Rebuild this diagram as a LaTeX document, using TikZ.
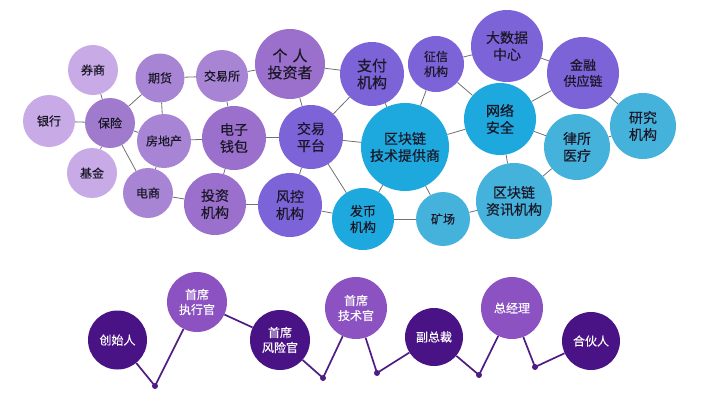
\documentclass[tikz,border=0pt]{standalone}
\usepackage{fontspec}
\newfontfamily\cjk[FakeBold=0.35]{Noto Sans CJK SC}
\definecolor{cA}{HTML}{C8AAE6}
\definecolor{cB}{HTML}{A884D4}
\definecolor{cBd}{HTML}{A07ACC}
\definecolor{cC}{HTML}{9A70CC}
\definecolor{cD}{HTML}{7D63D8}
\definecolor{cE}{HTML}{1EA9DE}
\definecolor{cF}{HTML}{45B2DC}
\definecolor{txt}{HTML}{1A1726}
\definecolor{edgegray}{HTML}{707070}
\definecolor{pdark}{HTML}{4A1385}
\definecolor{plight}{HTML}{8C52C2}
\definecolor{pline}{HTML}{4E1C85}
\tikzset{
  bub/.style={circle, inner sep=0pt, align=center, text=txt},
  f12/.style={font=\cjk\fontsize{12}{15}\selectfont},
  f13/.style={font=\cjk\fontsize{13}{16}\selectfont},
  f14/.style={font=\cjk\fontsize{14}{17}\selectfont},
  f15/.style={font=\cjk\fontsize{15}{17}\selectfont},
  link/.style={draw=edgegray, line width=0.8pt},
  pbub/.style={circle, inner sep=0pt, align=center, text=white, font=\cjk\fontsize{12}{15}\selectfont},
  zig/.style={draw=pline, line width=1.7pt},
  pdot/.style={circle, fill=pline, inner sep=0pt, minimum size=6pt}
}
\begin{document}
\begin{tikzpicture}[x=1pt,y=-1pt]
\useasboundingbox (0,0) rectangle (710,402);
% top network
\node[bub,f12,fill=cA,minimum size=50pt] (quanshang) at (93,70) {券商};
\node[bub,f12,fill=cA,minimum size=52pt] (yinhang) at (49,121) {银行};
\node[bub,f12,fill=cBd,minimum size=50pt] (baoxian) at (110,123) {保险};
\node[bub,f12,fill=cA,minimum size=50pt] (jijin) at (92,173) {基金};
\node[bub,f12,fill=cB,minimum size=49pt] (qihuo) at (160,78) {期货};
\node[bub,f12,fill=cB,minimum size=54pt] (fangdichan) at (164,141) {房地产};
\node[bub,f12,fill=cB,minimum size=50pt] (dianshang) at (148,193) {电商};
\node[bub,f12,fill=cB,minimum size=52pt] (jiaoyisuo) at (222,76) {交易所};
\node[bub,f15,fill=cC,minimum size=70pt] (geren) at (290,64) {个\,\,人\\投资者};
\node[bub,f14,fill=cC,minimum size=64pt] (qianbao) at (234,138) {电子\\钱包};
\node[bub,f14,fill=cC,minimum size=62pt] (touzi) at (215,204) {投资\\机构};
\node[bub,f14,fill=cD,minimum size=64pt] (pingtai) at (311,137) {交易\\平台};
\node[bub,f14,fill=cD,minimum size=64pt] (fengkong) at (290,205) {风控\\机构};
\node[bub,f15,fill=cD,minimum size=64pt] (zhifu) at (372,74) {支付\\机构};
\node[bub,f12,fill=cD,minimum size=56pt] (zhengxin) at (436,64) {征信\\机构};
\node[bub,f14,fill=cD,minimum size=72pt] (dashuju) at (507,46) {大数据\\中心};
\node[bub,f13,fill=cD,minimum size=72pt] (jinrong) at (583,73) {金融\\供应链};
\node[bub,f14,fill=cE,minimum size=72pt] (wangluo) at (500,119) {网络\\安全};
\node[bub,f14,fill=cE,minimum size=88pt] (tigong) at (405,147) {区块链\\技术提供商};
\node[bub,f14,fill=cF,minimum size=66pt] (yanjiu) at (643,126) {研究\\机构};
\node[bub,f14,fill=cF,minimum size=66pt] (lvsuo) at (577,147) {律所\\医疗};
\node[bub,f14,fill=cF,minimum size=76pt] (zixun) at (514,201) {区块链\\资讯机构};
\node[bub,f12,fill=cF,minimum size=54pt] (kuangchang) at (443,219) {矿场};
\node[bub,f13,fill=cE,minimum size=62pt] (fabi) at (363,219) {发币\\机构};
% edges
\draw[link] (quanshang) -- (baoxian);
\draw[link] (yinhang) -- (baoxian);
\draw[link] (jijin) -- (baoxian);
\draw[link] (baoxian) -- (qihuo);
\draw[link] (baoxian) -- (fangdichan);
\draw[link] (baoxian) -- (dianshang);
\draw[link] (qihuo) -- (fangdichan);
\draw[link] (qihuo) -- (jiaoyisuo);
\draw[link] (fangdichan) -- (qianbao);
\draw[link] (fangdichan) -- (dianshang);
\draw[link] (dianshang) -- (touzi);
\draw[link] (jiaoyisuo) -- (qianbao);
\draw[link] (jiaoyisuo) -- (geren);
\draw[link] (qianbao) -- (touzi);
\draw[link] (qianbao) -- (pingtai);
\draw[link] (geren) -- (pingtai);
\draw[link] (geren) -- (zhifu);
\draw[link] (touzi) -- (fengkong);
\draw[link] (fengkong) -- (pingtai);
\draw[link] (fengkong) -- (fabi);
\draw[link] (pingtai) -- (zhifu);
\draw[link] (pingtai) -- (tigong);
\draw[link] (pingtai) -- (fabi);
\draw[link] (zhifu) -- (tigong);
\draw[link] (zhengxin) -- (tigong);
\draw[link] (zhengxin) -- (wangluo);
\draw[link] (zhengxin) -- (dashuju);
\draw[link] (dashuju) -- (jinrong);
\draw[link] (wangluo) -- (jinrong);
\draw[link] (wangluo) -- (tigong);
\draw[link] (wangluo) -- (lvsuo);
\draw[link] (wangluo) -- (zixun);
\draw[link] (jinrong) -- (yanjiu);
\draw[link] (lvsuo) -- (yanjiu);
\draw[link] (lvsuo) -- (zixun);
\draw[link] (tigong) -- (fabi);
\draw[link] (tigong) -- (kuangchang);
\draw[link] (kuangchang) -- (zixun);
\draw[link] (kuangchang) -- (fabi);
% bottom timeline
\node[pbub,fill=pdark,minimum size=59pt] (b1) at (117.5,340) {创始人};
\node[pbub,fill=plight,minimum size=60pt] (b2) at (197,302) {首席\\执行官};
\node[pbub,fill=pdark,minimum size=60pt] (b3) at (280,340) {首席\\风险官};
\node[pbub,fill=plight,minimum size=62pt] (b4) at (356,308) {首席\\技术官};
\node[pbub,fill=pdark,minimum size=58pt] (b5) at (434,337) {副总裁};
\node[pbub,fill=plight,minimum size=62pt] (b6) at (512,308) {总经理};
\node[pbub,fill=pdark,minimum size=58pt] (b7) at (591,341) {合伙人};
\node[pdot] (d1) at (155,386) {};
\node[pdot] (d2) at (323,378) {};
\node[pdot] (d3) at (377,373) {};
\node[pdot] (d4) at (479,375) {};
\node[pdot] (d5) at (535,367) {};
\draw[zig] (b1) -- (d1.center) -- (b2);
\draw[zig] (b2) -- (b3);
\draw[zig] (b3) -- (d2.center) -- (b4);
\draw[zig] (b4) -- (d3.center) -- (b5);
\draw[zig] (b5) -- (d4.center) -- (b6);
\draw[zig] (b6) -- (d5.center) -- (b7);
\end{tikzpicture}
\end{document}
